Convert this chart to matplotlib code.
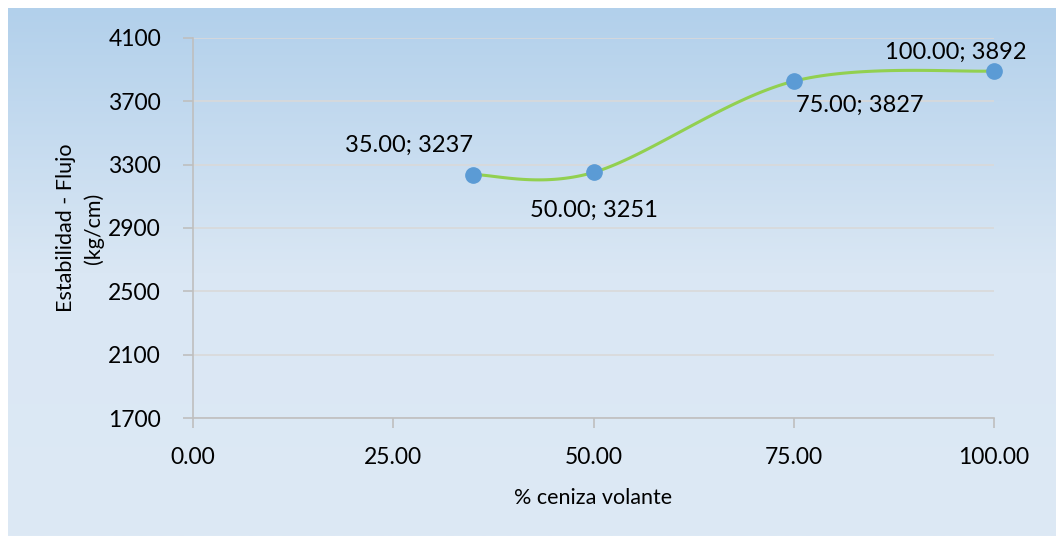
import numpy as np
import matplotlib.pyplot as plt
from matplotlib.colors import LinearSegmentedColormap

# datos
ceniza = [35.0, 50.0, 75.0, 100.0]
estabilidad = [3237, 3251, 3827, 3892]
etiquetas = ["35.00; 3237", "50.00; 3251", "75.00; 3827", "100.00; 3892"]
x_ticks = [0, 25, 50, 75, 100]
y_ticks = [1700, 2100, 2500, 2900, 3300, 3700, 4100]

plt.rcParams['font.family'] = ['Lato', 'DejaVu Sans']
plt.rcParams['font.size'] = 16.5


def excel_smooth(x, y, n=40):
    # curva suavizada estilo Excel (Bezier con puntos de control tipo Catmull-Rom)
    px = np.concatenate([[x[0]], x, [x[-1]]])
    py = np.concatenate([[y[0]], y, [y[-1]]])
    xs, ys = [], []
    t = np.linspace(0, 1, n)
    for i in range(1, len(px) - 2):
        p0 = np.array([px[i], py[i]])
        p3 = np.array([px[i + 1], py[i + 1]])
        c1 = p0 + (np.array([px[i + 1], py[i + 1]]) - np.array([px[i - 1], py[i - 1]])) / 6
        c2 = p3 - (np.array([px[i + 2], py[i + 2]]) - np.array([px[i], py[i]])) / 6
        b = ((1 - t) ** 3)[:, None] * p0 + (3 * (1 - t) ** 2 * t)[:, None] * c1 \
            + (3 * (1 - t) * t ** 2)[:, None] * c2 + (t ** 3)[:, None] * p3
        xs.extend(b[:, 0]); ys.extend(b[:, 1])
    return np.array(xs), np.array(ys)


fig = plt.figure(figsize=(10.56, 5.36), dpi=100)

# fondo con degradado
bg = fig.add_axes([8 / 1056, 0, 1 - 8 / 1056, 1 - 8 / 536], zorder=0)
cmap = LinearSegmentedColormap.from_list('bg', [(0, '#b2d0eb'), (0.5, '#dae7f4'), (1, '#dde9f5')])
grad = np.linspace(0, 1, 256)[:, None]
bg.imshow(grad, aspect='auto', cmap=cmap, extent=[0, 1, 0, 1], origin='upper')
bg.set_axis_off()

ax = fig.add_axes([193 / 1056, 1 - 418 / 536, (994 - 193) / 1056, (418 - 38) / 536], zorder=1)
ax.patch.set_alpha(0)

ax.set_xlim(0, 100)
ax.set_ylim(1700, 4100)
ax.set_xticks(x_ticks)
ax.set_xticklabels([f"{v:.2f}" for v in x_ticks])
ax.set_yticks(y_ticks)
ax.grid(axis='y', color='#d9d9d9', linewidth=1.2)
ax.set_axisbelow(True)
for s in ['top', 'right']:
    ax.spines[s].set_visible(False)
for s in ['left', 'bottom']:
    ax.spines[s].set_color('#bfbfbf')
    ax.spines[s].set_linewidth(1.2)
ax.tick_params(colors='#bfbfbf', labelcolor='black', length=7, width=1.2)
ax.tick_params(axis='y', pad=16)
ax.tick_params(axis='x', pad=14)

# transformar a coordenadas de ejes para suavizar
fx = (np.array(ceniza) - 0) / 100
fy = (np.array(estabilidad) - 1700) / 2400 * (380 / 801)
sx, sy = excel_smooth(fx, fy)
ax.plot(sx * 100, sy / (380 / 801) * 2400 + 1700, color='#92d050', linewidth=2.2, zorder=2)
ax.plot(ceniza, estabilidad, 'o', color='#5b9bd5', markersize=11, zorder=3, clip_on=False)

offsets = [(-64, 29), (0, -38), (66, -24), (-38, 19)]
for xv, yv, lab, off in zip(ceniza, estabilidad, etiquetas, offsets):
    ax.annotate(lab, (xv, yv), xytext=off, textcoords='offset pixels',
                ha='center', va='center', fontsize=17)

ax.set_xlabel("% ceniza volante", fontsize=15.5, labelpad=14)
ax.set_ylabel("Estabilidad - Flujo\n(kg/cm)", fontsize=15.5, labelpad=3, linespacing=1.45)

plt.savefig("out.png", dpi=100)
